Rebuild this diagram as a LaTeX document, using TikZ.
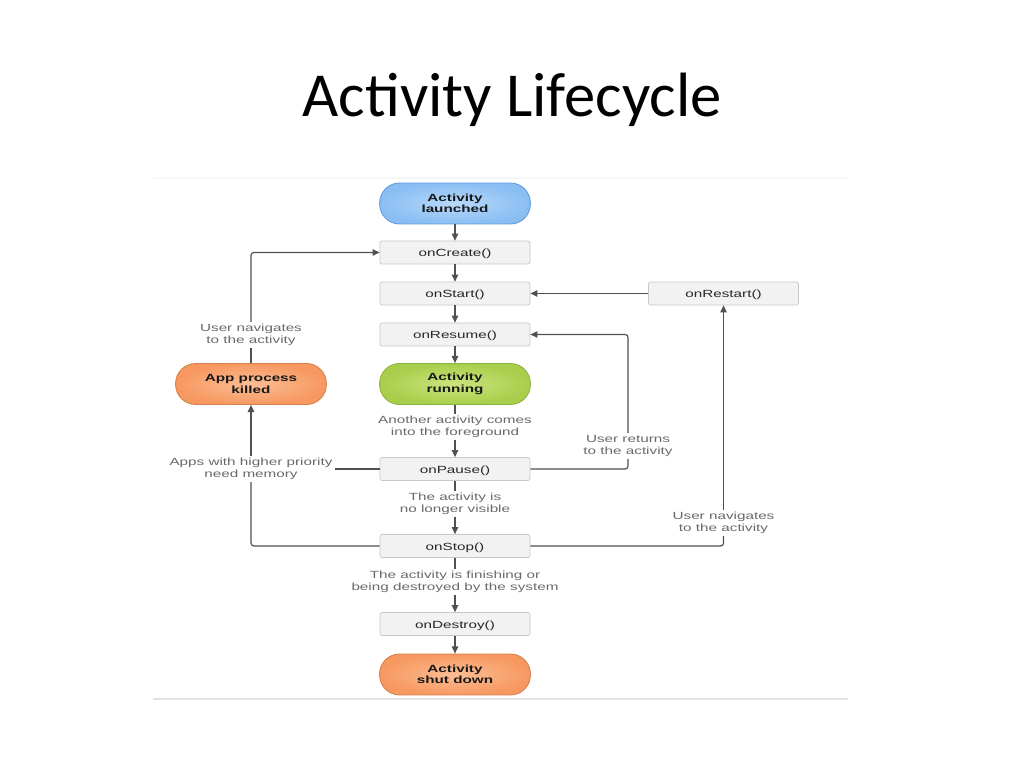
\documentclass[tikz,border=0pt]{standalone}
\usepackage{fontspec}
\newfontfamily\titlefont{Carlito}
\newfontfamily\lcfont[FakeStretch=1.47]{Liberation Sans}
\usetikzlibrary{arrows.meta,positioning}
\definecolor{LineGray}{RGB}{80,80,80}
\definecolor{NoteGray}{RGB}{105,105,105}
\definecolor{BoxFill}{RGB}{242,242,242}
\definecolor{BoxEdge}{RGB}{200,200,200}
\definecolor{FrameGray}{RGB}{226,226,226}
\definecolor{FrameFaint}{RGB}{247,247,247}
\definecolor{BlueIn}{RGB}{184,217,250}
\definecolor{BlueOut}{RGB}{138,190,243}
\definecolor{BlueEdge}{RGB}{95,155,222}
\definecolor{GreenIn}{RGB}{204,228,126}
\definecolor{GreenOut}{RGB}{168,206,75}
\definecolor{GreenEdge}{RGB}{140,178,60}
\definecolor{OrangeIn}{RGB}{252,190,148}
\definecolor{OrangeOut}{RGB}{247,152,97}
\definecolor{OrangeEdge}{RGB}{212,127,74}
\tikzset{
  stage/.style={draw=BoxEdge,fill=BoxFill,rounded corners=1.5pt,
                minimum width=105.5pt,minimum height=16.2pt,inner sep=1pt,
                text height=7.2pt,text depth=1.5pt,
                font=\lcfont\fontsize{7.3}{8.1}\selectfont,text=black!85,line width=0.5pt},
  blob/.style={rounded corners=14pt,minimum width=106pt,minimum height=28.8pt,
               inner sep=1pt,align=center,line width=0.6pt,
               font=\lcfont\bfseries\fontsize{7.3}{8.1}\selectfont,text=black!90},
  blueblob/.style={blob,draw=BlueEdge,inner color=BlueIn,outer color=BlueOut},
  greenblob/.style={blob,draw=GreenEdge,inner color=GreenIn,outer color=GreenOut},
  orangeblob/.style={blob,draw=OrangeEdge,inner color=OrangeIn,outer color=OrangeOut},
  note/.style={align=center,inner sep=1.5pt,text=NoteGray,
               font=\lcfont\fontsize{7.3}{8.1}\selectfont},
  line/.style={LineGray,line width=0.8pt,rounded corners=2pt},
  arr/.style={line,-{Triangle[length=5pt,width=4.6pt]}},
}
\begin{document}
\begin{tikzpicture}[x=0.703125pt,y=-0.703125pt]
\useasboundingbox (0,0) rectangle (1024,768);
% title
\node[font=\titlefont\fontsize{44}{52}\selectfont,anchor=base] (title) at (512,117) {Activity Lifecycle};
% edges of the pasted figure
\draw[FrameFaint,line width=2pt] (153,178) -- (848,178);
\draw[FrameGray,line width=0.8pt] (153,699) -- (848,699);

% main column
\node[blueblob] (launched) at (455,203.5) {Activity\\launched};
\node[stage] (create) at (455,252.5) {onCreate()};
\node[stage] (start) at (455,293.5) {onStart()};
\node[stage] (resume) at (455,334.5) {onResume()};
\node[greenblob] (running) at (455,384) {Activity\\running};
\node[note] (fgnote) at (455,427) {Another activity comes\\into the foreground};
\node[stage] (pause) at (455,469) {onPause()};
\node[note] (visnote) at (455,504) {The activity is\\no longer visible};
\node[stage] (stop) at (455,546) {onStop()};
\node[note] (finnote) at (455,582) {The activity is finishing or\\being destroyed by the system};
\node[stage] (destroy) at (455,624) {onDestroy()};
\node[orangeblob] (shutdown) at (455,674.5) {Activity\\shut down};

% right side
\node[stage] (restart) at (723.5,293.5) {onRestart()};
\node[note] (retnote) at (628,446) {User returns\\to the activity};
\node[note] (navRnote) at (723.5,523) {User navigates\\to the activity};

% left side
\node[orangeblob] (killed) at (251,384) {App process\\killed};
\node[note] (navLnote) at (251,335) {User navigates\\to the activity};
\node[note] (memnote) at (251,469) {Apps with higher priority\\need memory};

% main flow
\draw[arr] (launched) -- (create);
\draw[arr] (create) -- (start);
\draw[arr] (start) -- (resume);
\draw[arr] (resume) -- (running);
\draw[line] (running) -- (fgnote);
\draw[arr] (fgnote) -- (pause);
\draw[line] (pause) -- (visnote);
\draw[arr] (visnote) -- (stop);
\draw[line] (stop) -- (finnote);
\draw[arr] (finnote) -- (destroy);
\draw[arr] (destroy) -- (shutdown);

% loops on the right
\draw[arr] (restart) -- (start);
\draw[line] (pause.east) -| (retnote);
\draw[arr] (retnote) |- (resume.east);
\draw[line] (stop.east) -| (navRnote);
\draw[arr] (navRnote) -- (restart);

% loops on the left
\draw[line] (pause.west) -- (memnote);
\draw[line] (stop.west) -| (memnote);
\draw[arr] (memnote) -- (killed);
\draw[line] (killed) -- (navLnote);
\draw[arr] (navLnote) |- (create.west);
\end{tikzpicture}
\end{document}
